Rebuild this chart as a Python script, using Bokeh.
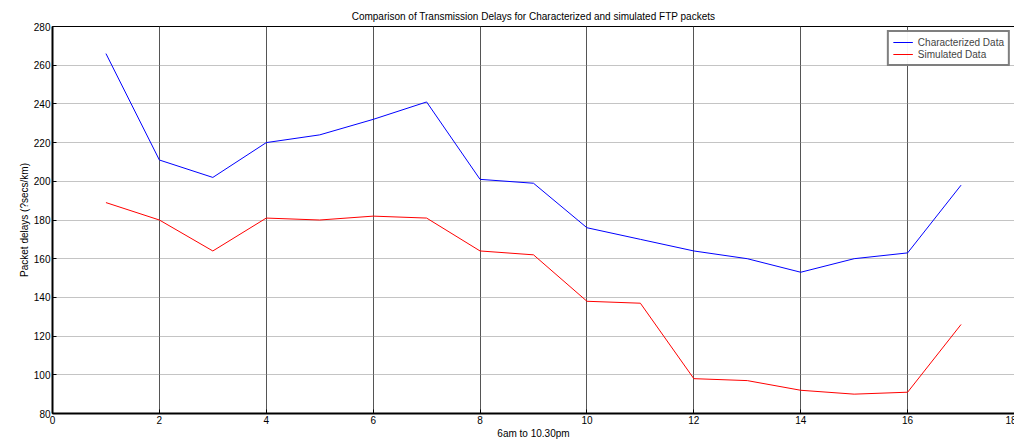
from bokeh.plotting import figure
from bokeh.embed import file_html
from bokeh.resources import INLINE
from bokeh.models import Range1d, Legend, LegendItem, FixedTicker

x = list(range(1, 18))
characterized = [266, 211, 202, 220, 224, 232, 241, 201, 199, 176, 170, 164, 160, 153, 160, 163, 198]
simulated = [189, 180, 164, 181, 180, 182, 181, 164, 162, 138, 137, 98, 97, 92, 90, 91, 126]
xticks = list(range(0, 19, 2))
yticks = list(range(80, 281, 20))

p = figure(width=1016, height=441, output_backend="svg", toolbar_location=None,
           x_range=Range1d(0, 18), y_range=Range1d(80, 280),
           min_border_left=52, min_border_right=2, min_border_top=26, min_border_bottom=20)
p.title.text = "Comparison of Transmission Delays for Characterized and simulated FTP packets"
p.title.align = "center"
p.title.text_font = "Liberation Sans"
p.title.text_font_size = "10px"
p.title.text_font_style = "normal"
p.title.text_color = "black"
p.title.offset = 0
p.xaxis.axis_label = "6am to 10.30pm"
p.yaxis.axis_label = "Packet delays (?secs/km)"
for ax in (p.xaxis[0], p.yaxis[0]):
    ax.axis_label_text_font = "Liberation Sans"
    ax.axis_label_text_font_size = "10px"
    ax.axis_label_text_font_style = "normal"
    ax.axis_label_text_color = "black"
    ax.major_label_text_font = "Liberation Sans"
    ax.major_label_text_font_size = "10px"
    ax.major_label_text_color = "black"
    ax.minor_tick_line_color = None
    ax.major_tick_in = 4
    ax.major_tick_out = 0
    ax.axis_line_width = 2
    ax.axis_label_standoff = 1
    ax.major_label_standoff = 2
p.xaxis.ticker = FixedTicker(ticks=xticks)
p.yaxis.ticker = FixedTicker(ticks=yticks)
p.xgrid.ticker = FixedTicker(ticks=xticks)
p.ygrid.ticker = FixedTicker(ticks=yticks)
p.xgrid.grid_line_color = "#555555"
p.xgrid.grid_line_width = 1
p.ygrid.grid_line_color = "#888888"
p.ygrid.grid_line_dash = "1 1"
p.outline_line_color = "black"
p.outline_line_width = 1

r1 = p.line(x, characterized, color="blue", line_width=1)
r2 = p.line(x, simulated, color="red", line_width=1)
leg = Legend(items=[LegendItem(label="Characterized Data", renderers=[r1]),
                    LegendItem(label="Simulated Data", renderers=[r2])],
             location="top_right", label_text_font="Liberation Sans", label_text_font_size="10px",
             border_line_color="black", border_line_width=2, spacing=0, padding=4,
             label_height=12, glyph_height=12, margin=4)
p.add_layout(leg)

open("out.html", "w").write(file_html(p, INLINE))
